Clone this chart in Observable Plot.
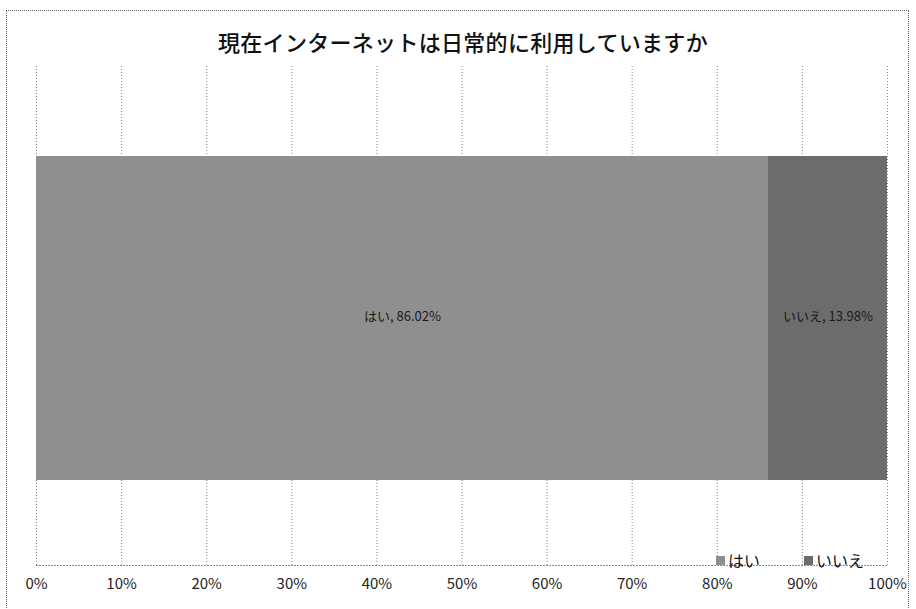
<!DOCTYPE html>
<html>
<head>
<meta charset="utf-8">
<script src="https://cdn.jsdelivr.net/npm/d3@7"></script>
<script src="https://cdn.jsdelivr.net/npm/@observablehq/plot@0.6"></script>
<style>
  html, body { margin: 0; padding: 0; background: #fff; }
  #wrap { position: relative; width: 916px; height: 609px; overflow: hidden; font-family: "Noto Sans CJK JP", "Noto Sans", sans-serif; }
  #frame { position: absolute; left: 6px; top: 10px; width: 903px; height: 620px; border: 1px dotted #666; box-sizing: border-box; }
  #title { position: absolute; left: 0; width: 926px; top: 25px; text-align: center; font-size: 22px; font-weight: 500; color: #111; letter-spacing: 0.3px; }
  #chart { position: absolute; left: 0; top: 0; }
  #legend { position: absolute; top: 551px; left: 716px; font-size: 16px; line-height: 18px; color: #111; display: flex; gap: 0; }
  .item { display: flex; align-items: center; margin-right: 44px; }
  .sw { width: 9px; height: 9px; margin-right: 3px; }
</style>
</head>
<body>
<div id="wrap">
  <div id="frame"></div>
  <div id="chart"></div>
  <div id="title">現在インターネットは日常的に利用していますか</div>
  <div id="legend"></div>
</div>
<script>
const question = "現在インターネットは日常的に利用していますか";
const answers = ["はい", "いいえ"];
const values = [86.02, 13.98];
const colors = ["#8f8f8f", "#6c6c6c"];
const tickValues = [0, 10, 20, 30, 40, 50, 60, 70, 80, 90, 100];

const ends = d3.cumsum(values);
const data = answers.map((a, i) => ({
  q: question,
  answer: a,
  value: values[i],
  x1: ends[i] - values[i],
  x2: ends[i]
}));

const chart = Plot.plot({
  width: 916,
  height: 609,
  marginTop: 66,
  marginLeft: 36,
  marginRight: 29,
  marginBottom: 44,
  style: { fontFamily: '"Noto Sans CJK JP", "Noto Sans", sans-serif', background: "transparent" },
  x: { domain: [0, 100] },
  y: { domain: [question], padding: 0.212, axis: null },
  color: { domain: answers, range: colors },
  marks: [
    Plot.gridX(tickValues, { stroke: "#8a8a8a", strokeOpacity: 1, strokeDasharray: "1,2", strokeWidth: 1 }),
    Plot.frame({ anchor: "bottom", stroke: "#8a8a8a", strokeDasharray: "1,2" }),
    Plot.barX(data, { x1: "x1", x2: "x2", y: "q", fill: "answer", dy: 2 }),
    Plot.text(data, {
      x: d => (d.x1 + d.x2) / 2,
      y: "q",
      text: d => `${d.answer}, ${d.value.toFixed(2)}%`,
      fontSize: 13,
      fill: "#1a1a1a"
    }),
    Plot.axisX(tickValues, {
      tickFormat: d => d + "%",
      tickSize: 0,
      tickPadding: 13,
      fontSize: 15,
      fill: "#222"
    })
  ]
});
document.getElementById("chart").appendChild(chart);

const legend = document.getElementById("legend");
answers.forEach((a, i) => {
  const item = document.createElement("div");
  item.className = "item";
  const sw = document.createElement("span");
  sw.className = "sw";
  sw.style.background = colors[i];
  const t = document.createElement("span");
  t.textContent = a;
  item.appendChild(sw);
  item.appendChild(t);
  legend.appendChild(item);
});
</script>
</body>
</html>
